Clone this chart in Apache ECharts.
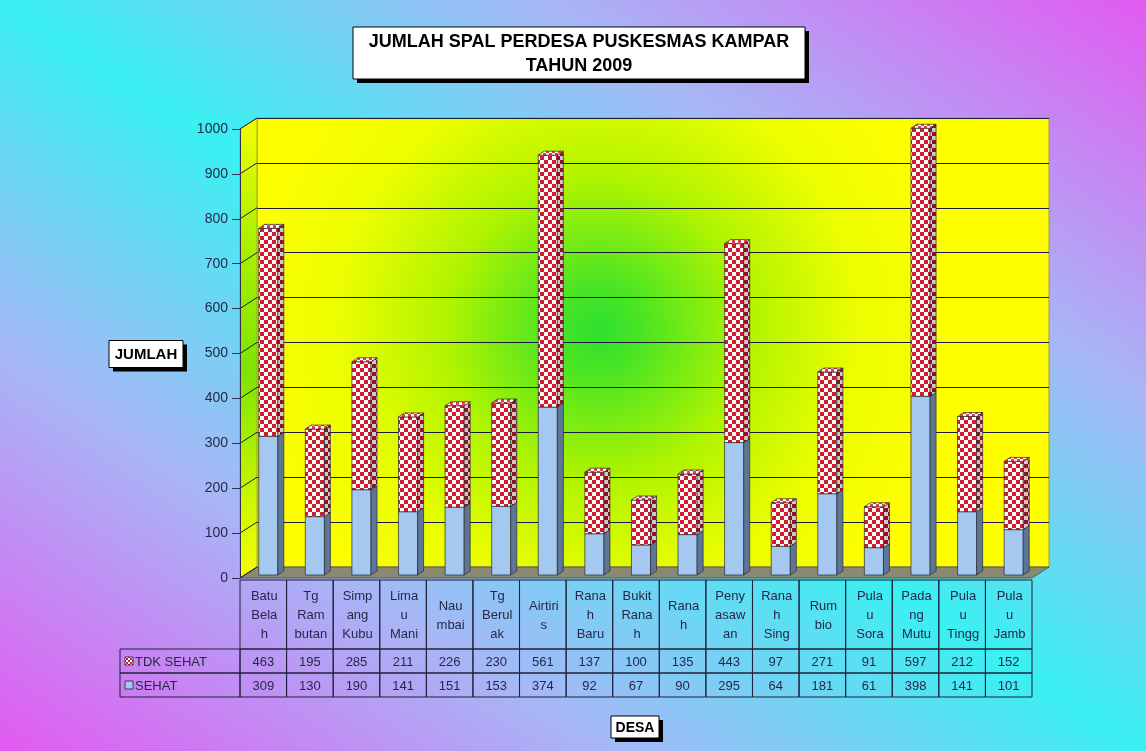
<!DOCTYPE html>
<html><head><meta charset="utf-8">
<script src="https://cdn.jsdelivr.net/npm/echarts@6/dist/echarts.min.js"></script>
<style>
html,body{margin:0;padding:0;width:1146px;height:751px;overflow:hidden;}
body{background:linear-gradient(to top right,#e25af0 0%,#a6b8f6 27%,#3af0f2 50%,#a6b8f6 73%,#e25af0 100%);}
#c{width:1146px;height:751px;}
</style></head><body><div id="c"></div>
<script>
const categories = ["Batu\nBela\nh","Tg\nRam\nbutan","Simp\nang\nKubu","Lima\nu\nMani","Nau\nmbai","Tg\nBerul\nak","Airtiri\ns","Rana\nh\nBaru","Bukit\nRana\nh","Rana\nh","Peny\nasaw\nan","Rana\nh\nSing","Rum\nbio","Pula\nu\nSora","Pada\nng\nMutu","Pula\nu\nTingg","Pula\nu\nJamb"];
const tdkSehat = [463,195,285,211,226,230,561,137,100,135,443,97,271,91,597,212,152];
const sehat    = [309,130,190,141,151,153,374,92,67,90,295,64,181,61,398,141,101];
const yTicks = [0,100,200,300,400,500,600,700,800,900,1000];
const seriesNames = ["TDK SEHAT","SEHAT"];
const titleLines = ["JUMLAH SPAL PERDESA PUSKESMAS KAMPAR","TAHUN 2009"];
const yAxisName = "JUMLAH";
const xAxisName = "DESA";

const FONT = '"Liberation Sans", Arial, sans-serif';
const TXT = '#26284a';
function checker(c1, c2, s){
  const cv=document.createElement('canvas'); cv.width=cv.height=2*s;
  const g=cv.getContext('2d'); g.fillStyle=c2; g.fillRect(0,0,2*s,2*s);
  g.fillStyle=c1; g.fillRect(0,0,s,s); g.fillRect(s,s,s,s); return cv;
}
const redFront = {image: checker('#d01c2c','#ffffff',4), repeat:'repeat'};
const redSide  = {image: checker('#8c1424','#d6c4c8',4), repeat:'repeat'};
const redTop   = {image: checker('#e04050','#ffffff',3), repeat:'repeat'};
const redIcon  = {image: checker('#d01c2c','#ffffff',2), repeat:'repeat'};
const BLUE='#a4c8f0', BLUE_SIDE='#5e7696';
const DX=17, DY=-11;

const chart = echarts.init(document.getElementById('c'), null, {renderer:'canvas'});

function renderWalls(params, api){
  const cs = params.coordSys;
  const B = cs.y+cs.height;
  const ch = [];
  ch.push({type:'polygon', shape:{points:[[cs.x,B],[cs.x,cs.y],[cs.x+DX,cs.y+DY],[cs.x+DX,B+DY]]},
    style:{fill:new echarts.graphic.LinearGradient(0,0,0,1,[{offset:0,color:'#f4ff00'},{offset:0.25,color:'#b0f200'},{offset:0.55,color:'#7ee400'},{offset:0.85,color:'#d0f800'},{offset:1,color:'#f6ff00'}]), stroke:'#9a9a40', lineWidth:0.8}});
  ch.push({type:'polygon', shape:{points:[[cs.x,B],[cs.x+cs.width,B],[cs.x+cs.width+DX,B+DY],[cs.x+DX,B+DY]]},
    style:{fill:'#8a8a72', stroke:'#4a4a40', lineWidth:0.8}});
  yTicks.forEach(v=>{
    const y = api.coord([0,v])[1];
    ch.push({type:'line', shape:{x1:cs.x,y1:y,x2:cs.x+DX,y2:y+DY}, style:{stroke:'#1a1a3a', lineWidth:1}});
  });
  return {type:'group', children:ch};
}

function renderBars(params, api){
  const i=api.value(0), a=api.value(1), b=api.value(2);
  const p0=api.coord([i,0]), p1=api.coord([i,a]), p2=api.coord([i,a+b]);
  const band=api.size([1,0])[0];
  const w=band*0.41, off=band*0.107, lift=3, dx=6, dy=-4;
  const xl=p0[0]+off-w/2, xr=xl+w;
  const yb=p0[1]-lift, ym=p1[1]-lift, yt=p2[1]-lift;
  const st={stroke:'#2a2a30', lineWidth:0.7};
  return {type:'group', children:[
    {type:'rect', shape:{x:xl,y:ym,width:w,height:yb-ym}, style:Object.assign({fill:BLUE},st)},
    {type:'polygon', shape:{points:[[xr,yb],[xr+dx,yb+dy],[xr+dx,ym+dy],[xr,ym]]}, style:Object.assign({fill:BLUE_SIDE},st)},
    {type:'rect', shape:{x:xl,y:yt,width:w,height:ym-yt}, style:Object.assign({fill:redFront},st)},
    {type:'polygon', shape:{points:[[xr,ym],[xr+dx,ym+dy],[xr+dx,yt+dy],[xr,yt]]}, style:Object.assign({fill:redSide},st)},
    {type:'polygon', shape:{points:[[xl,yt],[xr,yt],[xr+dx,yt+dy],[xl+dx,yt+dy]]}, style:Object.assign({fill:redTop},st)}
  ]};
}

function renderTable(params, api){
  const i=api.value(0);
  const cs=params.coordSys;
  const x0=api.coord([i,0])[0], bw=api.size([1,0])[0];
  const top=cs.y+cs.height+2, r1=top+69, r2=r1+24, r3=r2+24;
  const L=x0-bw/2;
  const bst={fill:'none', stroke:'#20203a', lineWidth:1};
  const tst=(t,x,y,extra)=>({type:'text', style:Object.assign({text:t, x:x, y:y, align:'center', verticalAlign:'middle', fontSize:13, fontFamily:FONT, fill:TXT, lineHeight:19}, extra||{})});
  const ch=[
    {type:'rect', shape:{x:L,y:top,width:bw,height:r1-top}, style:bst},
    {type:'rect', shape:{x:L,y:r1,width:bw,height:r2-r1}, style:bst},
    {type:'rect', shape:{x:L,y:r2,width:bw,height:r3-r2}, style:bst},
    tst(categories[i], x0+1, (top+r1)/2+1),
    tst(String(tdkSehat[i]), x0, (r1+r2)/2+1),
    tst(String(sehat[i]), x0, (r2+r3)/2+1)
  ];
  if(i===0){
    const LL=120;
    ch.push({type:'rect', shape:{x:LL,y:r1,width:L-LL,height:r2-r1}, style:bst});
    ch.push({type:'rect', shape:{x:LL,y:r2,width:L-LL,height:r3-r2}, style:bst});
    ch.push({type:'rect', shape:{x:LL+5,y:(r1+r2)/2-4,width:8,height:8}, style:{fill:redIcon, stroke:'#20203a', lineWidth:0.8}});
    ch.push({type:'rect', shape:{x:LL+5,y:(r2+r3)/2-4,width:8,height:8}, style:{fill:BLUE, stroke:'#20203a', lineWidth:0.8}});
    ch.push(tst(seriesNames[0], LL+15, (r1+r2)/2+1, {align:'left'}));
    ch.push(tst(seriesNames[1], LL+15, (r2+r3)/2+1, {align:'left'}));
  }
  return {type:'group', children:ch};
}

function boxed(cx, cy, w, h, lines, fs, lh){
  const x=cx-w/2, y=cy-h/2;
  return {type:'group', children:[
    {type:'rect', shape:{x:x+4,y:y+4,width:w,height:h}, style:{fill:'#000'}},
    {type:'rect', shape:{x:x,y:y,width:w,height:h}, style:{fill:'#fff', stroke:'#000', lineWidth:1}},
    {type:'text', style:{text:lines.join('\n'), x:cx, y:cy+1, align:'center', verticalAlign:'middle', fontSize:fs, fontWeight:'bold', fontFamily:FONT, fill:'#000', lineHeight:lh}}
  ]};
}

const option = {
  animation:false,
  backgroundColor:'transparent',
  grid:[
    {left:240, top:129, width:792, height:449, show:false},
    {left:257, top:118, width:792, height:449, show:true,
     backgroundColor:{type:'radial', x:0.43, y:0.47, r:0.8, colorStops:[
       {offset:0,color:'#2ee030'},{offset:0.12,color:'#4ae424'},{offset:0.42,color:'#b0f400'},{offset:0.72,color:'#ecfe00'},{offset:1,color:'#ffff00'}]},
     borderColor:'#a09a50', borderWidth:1}
  ],
  xAxis:[
    {type:'category', gridIndex:0, data:categories, axisLine:{show:false}, axisTick:{show:false}, axisLabel:{show:false}},
    {type:'category', gridIndex:1, data:categories, show:false}
  ],
  yAxis:[
    {type:'value', gridIndex:0, min:0, max:1000, interval:100, z:4,
     axisLine:{show:true, lineStyle:{color:'#30304a', width:1}},
     axisTick:{show:true, length:8, lineStyle:{color:'#30304a'}},
     axisLabel:{fontSize:14, color:TXT, fontFamily:FONT, margin:12, formatter:v=>String(v)},
     splitLine:{show:false}},
    {type:'value', gridIndex:1, min:0, max:1000, interval:100,
     axisLine:{show:false}, axisTick:{show:false}, axisLabel:{show:false},
     splitLine:{show:true, lineStyle:{color:'#1a1a3a', width:1}}}
  ],
  series:[
    {type:'custom', name:'walls', xAxisIndex:0, yAxisIndex:0, z:1, silent:true, data:[[0]], renderItem:renderWalls},
    {type:'custom', name:'bars', xAxisIndex:0, yAxisIndex:0, z:5, silent:true,
     data:categories.map((c,i)=>[i, sehat[i], tdkSehat[i]]), renderItem:renderBars},
    {type:'custom', name:'table', xAxisIndex:0, yAxisIndex:0, z:5, silent:true,
     data:categories.map((c,i)=>[i, sehat[i], tdkSehat[i]]), renderItem:renderTable}
  ],
  graphic:[
    boxed(579, 53, 452, 52, titleLines, 18, 24),
    boxed(146, 354, 74, 27, [yAxisName], 15, 16),
    boxed(635, 727, 48, 22, [xAxisName], 14, 16)
  ]
};
chart.setOption(option);
</script></body></html>
